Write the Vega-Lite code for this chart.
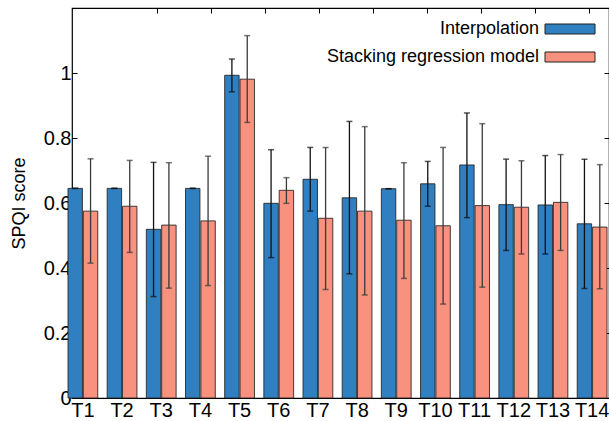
{
  "$schema": "https://vega.github.io/schema/vega-lite/v6.json",
  "autosize": {"type": "none"},
  "width": 537,
  "height": 390,
  "padding": {"left": 72, "top": 8, "right": 0, "bottom": 23},
  "config": {
    "font": "Liberation Sans",
    "view": {"stroke": "#000", "strokeWidth": 1.2},
    "axis": {"zindex": 1}
  },
  "datasets": {
    "scores": [
      {"t": "T1", "method": "Interpolation", "v": 0.645, "lo": 0.645, "hi": 0.645},
      {"t": "T1", "method": "Stacking regression model", "v": 0.575, "lo": 0.415, "hi": 0.736},
      {"t": "T2", "method": "Interpolation", "v": 0.645, "lo": 0.645, "hi": 0.645},
      {"t": "T2", "method": "Stacking regression model", "v": 0.59, "lo": 0.448, "hi": 0.731},
      {"t": "T3", "method": "Interpolation", "v": 0.519, "lo": 0.312, "hi": 0.725},
      {"t": "T3", "method": "Stacking regression model", "v": 0.532, "lo": 0.338, "hi": 0.724},
      {"t": "T4", "method": "Interpolation", "v": 0.645, "lo": 0.645, "hi": 0.645},
      {"t": "T4", "method": "Stacking regression model", "v": 0.545, "lo": 0.346, "hi": 0.744},
      {"t": "T5", "method": "Interpolation", "v": 0.993, "lo": 0.942, "hi": 1.043},
      {"t": "T5", "method": "Stacking regression model", "v": 0.981, "lo": 0.848, "hi": 1.115},
      {"t": "T6", "method": "Interpolation", "v": 0.599, "lo": 0.432, "hi": 0.764},
      {"t": "T6", "method": "Stacking regression model", "v": 0.639, "lo": 0.599, "hi": 0.678},
      {"t": "T7", "method": "Interpolation", "v": 0.673, "lo": 0.575, "hi": 0.771},
      {"t": "T7", "method": "Stacking regression model", "v": 0.553, "lo": 0.334, "hi": 0.771},
      {"t": "T8", "method": "Interpolation", "v": 0.616, "lo": 0.382, "hi": 0.851},
      {"t": "T8", "method": "Stacking regression model", "v": 0.575, "lo": 0.317, "hi": 0.835},
      {"t": "T9", "method": "Interpolation", "v": 0.644, "lo": 0.644, "hi": 0.644},
      {"t": "T9", "method": "Stacking regression model", "v": 0.547, "lo": 0.368, "hi": 0.724},
      {"t": "T10", "method": "Interpolation", "v": 0.659, "lo": 0.59, "hi": 0.728},
      {"t": "T10", "method": "Stacking regression model", "v": 0.53, "lo": 0.289, "hi": 0.771},
      {"t": "T11", "method": "Interpolation", "v": 0.717, "lo": 0.555, "hi": 0.877},
      {"t": "T11", "method": "Stacking regression model", "v": 0.592, "lo": 0.341, "hi": 0.844},
      {"t": "T12", "method": "Interpolation", "v": 0.595, "lo": 0.454, "hi": 0.735},
      {"t": "T12", "method": "Stacking regression model", "v": 0.587, "lo": 0.443, "hi": 0.73},
      {"t": "T13", "method": "Interpolation", "v": 0.594, "lo": 0.443, "hi": 0.746},
      {"t": "T13", "method": "Stacking regression model", "v": 0.602, "lo": 0.454, "hi": 0.749},
      {"t": "T14", "method": "Interpolation", "v": 0.536, "lo": 0.337, "hi": 0.735},
      {"t": "T14", "method": "Stacking regression model", "v": 0.526, "lo": 0.336, "hi": 0.718}
    ],
    "frame": [{"a": 0, "b": 0}]
  },
  "resolve": {"scale": {"x": "independent"}, "axis": {"x": "independent", "y": "independent"}},
  "layer": [
    {
      "data": {"name": "scores"},
      "encoding": {
        "x": {
          "field": "t", "type": "nominal", "sort": null,
          "scale": {"range": [-4, 535], "paddingInner": 0.24, "paddingOuter": 0},
          "axis": {"title": null, "labelAngle": 0, "labelFontSize": 20, "labelColor": "#000", "labelPadding": 2, "ticks": false, "domain": false}
        },
        "xOffset": {"field": "method", "type": "nominal", "scale": {"paddingInner": 0.06}}
      },
      "layer": [
        {
          "mark": {"type": "bar", "stroke": "#222", "strokeWidth": 1, "strokeOpacity": 0.85},
          "encoding": {
            "y": {
              "field": "v", "type": "quantitative",
              "scale": {"domain": [0, 1.2], "nice": false},
              "axis": {"title": "SPQI score", "titleFontSize": 18, "titleFontWeight": "normal", "titleColor": "#000", "titlePadding": 15,
                       "values": [0, 0.2, 0.4, 0.6, 0.8, 1], "format": "~g", "labelFontSize": 20, "labelColor": "#000", "labelPadding": 6,
                       "tickSize": -5, "tickColor": "#000", "tickWidth": 1, "grid": false, "domain": false}
            },
            "fill": {
              "field": "method", "type": "nominal",
              "scale": {"range": ["#2f7fc1", "#f8917d"]},
              "legend": {
                "title": null, "orient": "none", "legendX": 485, "legendY": 8, "padding": 0,
                "symbolType": "M-2,-0.4H2V0.4H-2Z", "symbolSize": 625,
                "symbolStrokeColor": "#222", "symbolStrokeWidth": 1, "symbolOpacity": 1,
                "labelAlign": "right", "labelOffset": -44, "labelFontSize": 18, "labelColor": "#000",
                "labelLimit": 400, "rowPadding": 6
              }
            }
          }
        },
        {
          "mark": {"type": "rule", "strokeWidth": 1.3},
          "encoding": {
            "y": {"field": "lo", "type": "quantitative"},
            "y2": {"field": "hi"},
            "color": {"field": "method", "type": "nominal", "scale": {"range": ["#111", "#3a3a3a"]}, "legend": null}
          }
        },
        {
          "mark": {"type": "tick", "thickness": 1.5, "size": 6},
          "encoding": {
            "y": {"field": "lo", "type": "quantitative"},
            "color": {"field": "method", "type": "nominal", "legend": null}
          }
        },
        {
          "mark": {"type": "tick", "thickness": 1.5, "size": 6},
          "encoding": {
            "y": {"field": "hi", "type": "quantitative"},
            "color": {"field": "method", "type": "nominal", "legend": null}
          }
        }
      ]
    },
    {
      "data": {"name": "frame"},
      "mark": {"type": "point", "opacity": 0},
      "encoding": {
        "x": {
          "field": "a", "type": "quantitative",
          "scale": {"domain": [-1.568, 8.376], "nice": false, "zero": false},
          "axis": {"orient": "top", "values": [0, 1, 2, 3, 4, 5, 6, 7, 8], "labels": false, "title": null, "domain": false,
                   "grid": false, "tickSize": -5, "tickColor": "#000", "tickWidth": 1}
        },
        "y": {
          "field": "b", "type": "quantitative",
          "axis": {"orient": "right", "values": [0.2, 0.4, 0.6, 0.8, 1], "labels": false, "title": null, "domain": false,
                   "grid": false, "tickSize": -5, "tickColor": "#000", "tickWidth": 1}
        }
      }
    }
  ]
}
